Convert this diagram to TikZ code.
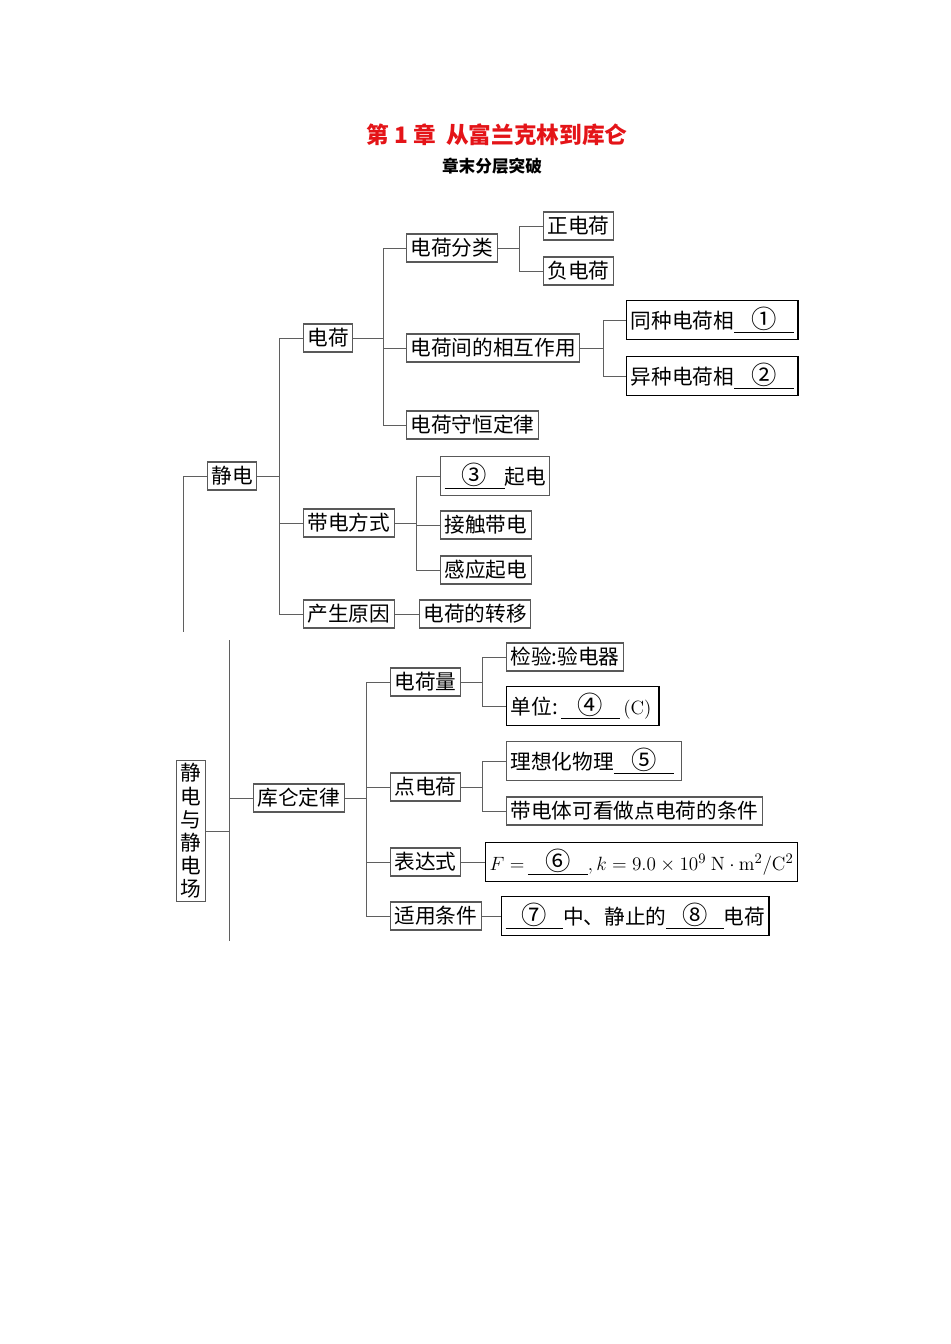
\documentclass[tikz,border=0pt]{standalone}
\usepackage[no-math]{fontspec}
\setmainfont{Noto Sans CJK SC}
\definecolor{TitleRed}{RGB}{228,20,24}
\definecolor{LineGray}{RGB}{95,95,95}
\newcommand{\blankfill}[2][45pt]{\underline{\makebox[#1]{\fontsize{19}{19}\selectfont #2}}}

\begin{document}
\begin{tikzpicture}[x=0.75pt, y=-0.75pt,
      every node/.style={font=\fontsize{15.5}{18}\selectfont, inner sep=0pt},
      box/.style={draw=black!65, line width=0.8pt, fill=white, inner xsep=3pt, minimum height=21pt, anchor=west},
      fillbox/.style={box, draw=black, line width=1.1pt, minimum height=29pt},
      link/.style={draw=LineGray, line width=0.7pt},
      title/.style={font=\fontsize{17}{20}\selectfont\bfseries, text=TitleRed},
      subtitle/.style={font=\fontsize{12.5}{15}\selectfont\bfseries}
  ]
    \useasboundingbox (0,0) rectangle (950,1344);
    \node[title] (tt) at (497,135) {第 1 章\ \ 从富兰克林到库仑};
    \node[subtitle] (st) at (492,166) {章末分层突破};
    % static electricity
    \node[box] (jd) at (207,476) {静电};
    \node[box] (dh) at (303,338) {电荷};
    \node[box] (dd) at (303,523) {带电方式};
    \node[box] (cy) at (303,614) {产生原因};
    \node[box] (fl) at (406,248) {电荷分类};
    \node[box] (xh) at (406,348) {电荷间的相互作用};
    \node[box] (sh) at (406,425) {电荷守恒定律};
    \node[box] (zh) at (543,226) {正电荷};
    \node[box] (fh) at (543,271) {负电荷};
    \node[fillbox] (tz) at (626,320) {同种电荷相\blankfill{①}};
    \node[fillbox] (yz) at (626,376) {异种电荷相\blankfill{②}};
    \node[box, minimum height=29pt] (mc) at (440,476) {\blankfill{③}起电};
    \node[box] (jc) at (440,525) {接触带电};
    \node[box] (gy) at (440,570) {感应起电};
    \node[box] (zy) at (419,614) {电荷的转移};
    \coordinate (j1) at (279,476);
    \coordinate (j2) at (383,338);
    \coordinate (j3) at (519,248);
    \coordinate (j4) at (603,348);
    \coordinate (j5) at (416,523);
    \coordinate (topend) at (183,632);
    \draw[link] (jd.west) -| (topend);
    \draw[link] (jd) -- (j1);
    \draw[link] (j1) |- (dh);
    \draw[link] (j1) |- (dd);
    \draw[link] (j1) |- (cy);
    \draw[link] (dh) -- (j2);
    \draw[link] (j2) |- (fl);
    \draw[link] (j2) |- (xh);
    \draw[link] (j2) |- (sh);
    \draw[link] (fl) -- (j3);
    \draw[link] (j3) |- (zh);
    \draw[link] (j3) |- (fh);
    \draw[link] (xh) -- (j4);
    \draw[link] (j4) |- (tz);
    \draw[link] (j4) |- (yz);
    \draw[link] (dd) -- (j5);
    \draw[link] (j5) |- (mc);
    \draw[link] (j5) |- (jc);
    \draw[link] (j5) |- (gy);
    \draw[link] (cy) -- (zy);
    % electrostatic field
    \node[box, anchor=center, align=center, minimum height=0pt, inner ysep=2pt,
          font=\fontsize{15.5}{17.4}\selectfont] (jdc) at (191,831) {静\\电\\与\\静\\电\\场};
    \node[box] (kl) at (253,798) {库仑定律};
    \node[box] (dl) at (390,682) {电荷量};
    \node[box] (dc) at (390,787) {点电荷};
    \node[box] (bd) at (390,862) {表达式};
    \node[box] (sy) at (390,916) {适用条件};
    \node[box] (jy) at (506,657) {检验:验电器};
    \node[fillbox] (dw) at (506,706) {单位:\,\blankfill[44pt]{④}\,$(\mathrm{C})$\,};
    \node[box, minimum height=29pt] (lx) at (506,761) {理想化物理\blankfill{⑤}\,};
    \node[box] (tj) at (506,811) {带电体可看做点电荷的条件};
    \node[fillbox] (gs) at (485,862) {$F=$\,\blankfill{⑥}$,k=9.0\times10^{9}\ \mathrm{N}\cdot\mathrm{m}^2/\mathrm{C}^2$};
    \node[fillbox] (tk) at (501,916) {\blankfill[43pt]{⑦}中、静止的\blankfill[43pt]{⑧}电荷};
    \coordinate (bustop) at (229,640);
    \coordinate (busend) at (229,941);
    \coordinate (j6) at (229,831);
    \coordinate (j7) at (229,798);
    \coordinate (j8) at (366,798);
    \coordinate (j9) at (482,682);
    \coordinate (j10) at (482,787);
    \draw[link] (bustop) -- (busend);
    \draw[link] (jdc) -- (j6);
    \draw[link] (j7) -- (kl);
    \draw[link] (kl) -- (j8);
    \draw[link] (j8) |- (dl);
    \draw[link] (j8) |- (dc);
    \draw[link] (j8) |- (bd);
    \draw[link] (j8) |- (sy);
    \draw[link] (dl) -- (j9);
    \draw[link] (j9) |- (jy);
    \draw[link] (j9) |- (dw);
    \draw[link] (dc) -- (j10);
    \draw[link] (j10) |- (lx);
    \draw[link] (j10) |- (tj);
    \draw[link] (bd) -- (gs);
    \draw[link] (sy) -- (tk);
  \end{tikzpicture}
\end{document}
